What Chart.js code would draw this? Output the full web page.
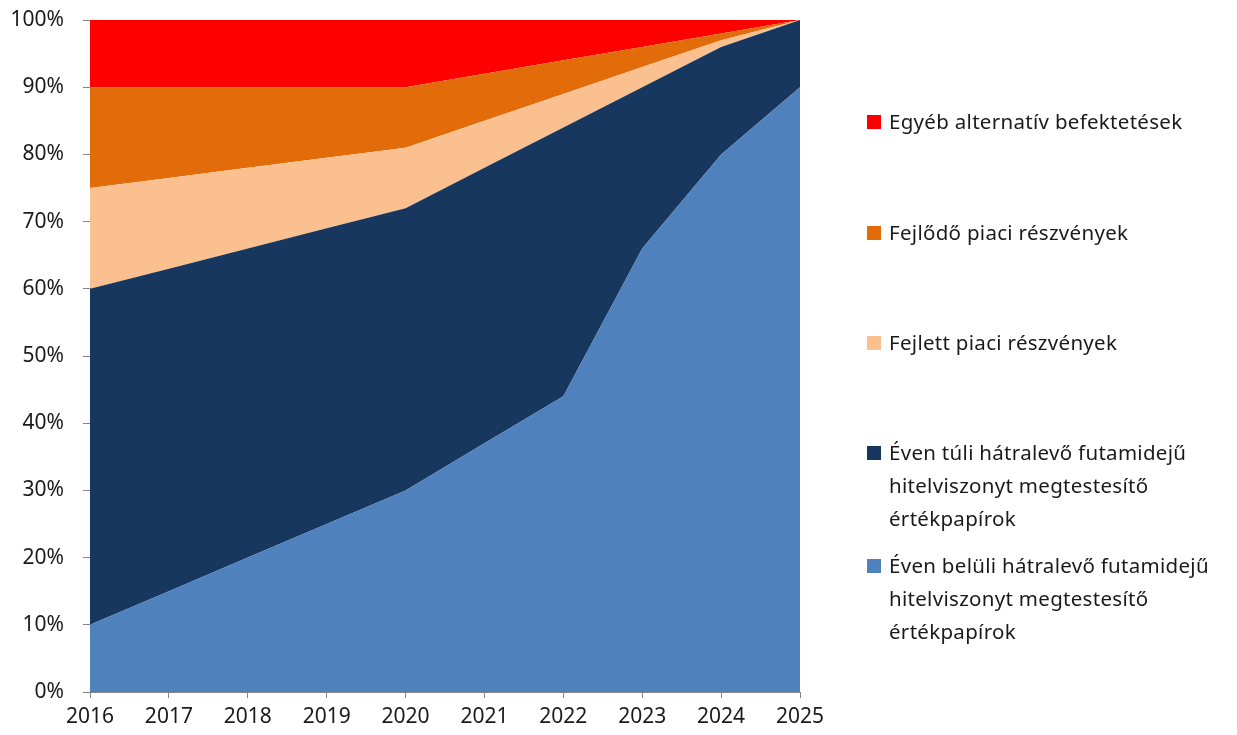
<!DOCTYPE html>
<html>
<head>
<meta charset="utf-8">
<script src="https://cdn.jsdelivr.net/npm/chart.js@4/dist/chart.umd.min.js"></script>
<style>
  html, body { margin: 0; padding: 0; background: #fff; }
  #wrap { position: relative; width: 1237px; height: 735px; }
  #c { position: absolute; left: 0; top: 0; }
  .lg { position: absolute; left: 867px; font-family: "Noto Sans", sans-serif; font-size: 20.5px; letter-spacing: 0.3px; color: #1a1a1a; line-height: 33px; }
  .lg .sw { position: absolute; left: 0; width: 14px; height: 14px; top: 10px; }
  .lg .tx { position: absolute; left: 22px; white-space: nowrap; }
</style>
</head>
<body>
<div id="wrap">
  <canvas id="c" width="1237" height="735"></canvas>
  <div id="legend"></div>
</div>
<script>
const years = ['2016','2017','2018','2019','2020','2021','2022','2023','2024','2025'];
const evenBeluli = [10, 15, 20, 25, 30, 37, 44, 66, 80, 90];
const evenTuli   = [50, 48, 46, 44, 42, 41, 40, 24, 16, 10];
const fejlett    = [15, 13.5, 12, 10.5, 9, 7, 5, 3, 1, 0];
const fejlodo    = [15, 13.5, 12, 10.5, 9, 7, 5, 3, 1, 0];
const egyeb      = [10, 10, 10, 10, 10, 8, 6, 4, 2, 0];
const yTicks = [0, 10, 20, 30, 40, 50, 60, 70, 80, 90, 100];

const series = [
  { label: ['Éven belüli hátralevő futamidejű', 'hitelviszonyt megtestesítő', 'értékpapírok'], data: evenBeluli, color: '#4F81BD' },
  { label: ['Éven túli hátralevő futamidejű', 'hitelviszonyt megtestesítő', 'értékpapírok'], data: evenTuli, color: '#17375E' },
  { label: ['Fejlett piaci részvények'], data: fejlett, color: '#FAC090' },
  { label: ['Fejlődő piaci részvények'], data: fejlodo, color: '#E36C0A' },
  { label: ['Egyéb alternatív befektetések'], data: egyeb, color: '#FF0000' }
];

const tickFont = { family: '"Noto Sans", sans-serif', size: 21, weight: 'normal' };

new Chart(document.getElementById('c'), {
  type: 'line',
  data: {
    labels: years,
    datasets: series.map((s, i) => ({
      label: s.label.join(' '),
      data: s.data,
      backgroundColor: s.color,
      borderColor: s.color,
      borderWidth: 0,
      pointRadius: 0,
      tension: 0,
      fill: i === 0 ? 'origin' : '-1'
    }))
  },
  options: {
    responsive: false,
    animation: false,
    layout: { padding: { top: 20, right: 437, left: 0, bottom: 0 } },
    plugins: { legend: { display: false }, tooltip: { enabled: false } },
    scales: {
      x: {
        offset: false,
        grid: { display: true, drawOnChartArea: false, drawTicks: true, tickLength: 6, color: '#868686' },
        border: { display: true, color: '#868686', width: 1 },
        ticks: { font: tickFont, color: '#1a1a1a', padding: 6, maxRotation: 0, autoSkip: false },
        afterFit: (a) => { a.height = 43; a.paddingLeft = 0; a.paddingRight = 0; }
      },
      y: {
        stacked: true,
        min: 0, max: 100,
        afterBuildTicks: (a) => { a.ticks = yTicks.map(v => ({ value: v })); },
        grid: { display: true, drawOnChartArea: false, drawTicks: true, tickLength: 7, color: '#868686' },
        border: { display: true, color: '#868686', width: 1 },
        ticks: { font: tickFont, color: '#1a1a1a', padding: 19, callback: (v) => v + '%' },
        afterFit: (a) => { a.width = 90; a.paddingTop = 0; a.paddingBottom = 0; }
      }
    }
  }
});

// HTML legend (top to bottom: reverse stacking order)
const legendTops = [105, 216, 326, 436, 549];
const lg = document.getElementById('legend');
series.slice().reverse().forEach((s, i) => {
  const d = document.createElement('div');
  d.className = 'lg';
  d.style.top = legendTops[i] + 'px';
  const sw = document.createElement('div');
  sw.className = 'sw';
  sw.style.background = s.color;
  d.appendChild(sw);
  const tx = document.createElement('div');
  tx.className = 'tx';
  tx.innerHTML = s.label.join('<br>');
  d.appendChild(tx);
  lg.appendChild(d);
});
</script>
</body>
</html>
